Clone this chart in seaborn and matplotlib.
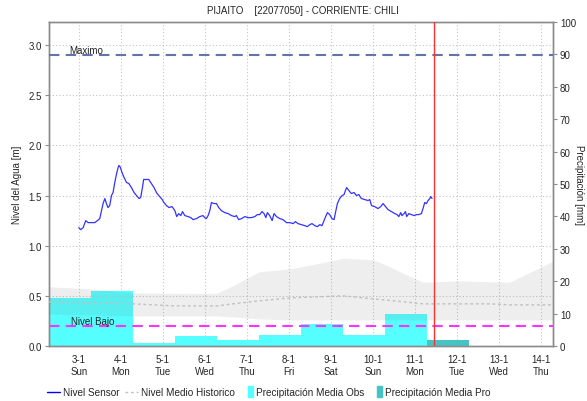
import matplotlib
matplotlib.use("Agg")
import matplotlib.pyplot as plt
import pandas as pd
import seaborn as sns
from matplotlib.patches import Rectangle
from matplotlib.lines import Line2D
from matplotlib.legend_handler import HandlerPatch
from matplotlib.ticker import MultipleLocator, FixedLocator

# ---------------------------------------------------------------- data
station_title = "PIJAITO    [22077050] - CORRIENTE: CHILI"
day0 = pd.Timestamp("2021-01-03")          # hour 0 of the time axis
day_labels = [f"{d.day}-{d.month}\n{d.strftime('%a')}"
              for d in pd.date_range(day0, periods=12, freq="D")]

# water level from the sensor (hours after day0, metres)
sensor_hours = [0, 1.1, 2.5, 4, 5.3, 7.3, 9.1, 10.7, 12, 13, 13.9, 14.9, 15.8,
                16.7, 17.7, 18.7, 19.6, 20.6, 21.5, 22.5, 23, 23.8, 24.7, 25.9,
                27.3, 28.6, 30.1, 31.6, 33, 34.5, 35.4, 36.4, 37.1, 38.7, 40,
                41.5, 43, 44.4, 45.7, 47.3, 48.7, 50.1, 51.6, 53.3, 54.9, 56,
                57.1, 58.3, 59.3, 60.6, 62.5, 64, 65.3, 67.3, 69.1, 71, 72,
                72.9, 73.9, 74.9, 75.8, 77.3, 78.7, 80, 81.5, 83.4, 85.3, 87.3,
                89.1, 90.1, 91.4, 93, 94.9, 96.7, 98.7, 100.6, 102.1, 103.4,
                104.7, 105.9, 106.9, 107.8, 109.1, 110.5, 111.6, 113, 114.9,
                116.7, 118.7, 120.6, 122.5, 123.8, 125.3, 127.3, 129.1, 130.7,
                132, 133.3, 134.9, 136.4, 137.7, 139, 140.6, 142.1, 143.4,
                144.7, 145.9, 146.7, 147.8, 149.1, 150.5, 151.6, 152.4, 153.1,
                154.3, 155.8, 157.3, 158.7, 160, 161.5, 163.4, 165.3, 166.3,
                167.3, 169.1, 171, 172.6, 173.9, 175.3, 176.7, 178.7, 180.6,
                181.9, 182.9, 184, 184.7, 185.9, 186.7, 187.4, 188.6, 190.1,
                191.6, 193, 194.3, 195.8, 196.7, 197.7, 198.7, 199.6, 200.6,
                201.1, 201.9]
sensor_level = [1.18, 1.16, 1.18, 1.25, 1.23, 1.23, 1.23, 1.25, 1.27, 1.35,
                1.42, 1.47, 1.42, 1.38, 1.40, 1.50, 1.53, 1.63, 1.71, 1.78,
                1.80, 1.78, 1.73, 1.68, 1.63, 1.62, 1.58, 1.53, 1.50, 1.47,
                1.48, 1.58, 1.66, 1.66, 1.66, 1.62, 1.58, 1.53, 1.50, 1.47,
                1.43, 1.40, 1.38, 1.39, 1.35, 1.29, 1.32, 1.30, 1.34, 1.30,
                1.29, 1.28, 1.26, 1.27, 1.29, 1.30, 1.28, 1.27, 1.30, 1.35,
                1.43, 1.42, 1.42, 1.38, 1.35, 1.33, 1.32, 1.30, 1.29, 1.30,
                1.26, 1.27, 1.29, 1.28, 1.28, 1.29, 1.31, 1.31, 1.34, 1.32,
                1.28, 1.33, 1.30, 1.25, 1.32, 1.29, 1.27, 1.26, 1.23, 1.23,
                1.22, 1.24, 1.22, 1.21, 1.20, 1.19, 1.21, 1.22, 1.20, 1.19,
                1.21, 1.20, 1.27, 1.33, 1.31, 1.27, 1.26, 1.33, 1.42, 1.47,
                1.50, 1.51, 1.55, 1.58, 1.55, 1.52, 1.53, 1.50, 1.51, 1.47,
                1.46, 1.45, 1.46, 1.40, 1.39, 1.37, 1.39, 1.42, 1.39, 1.36,
                1.34, 1.32, 1.31, 1.29, 1.33, 1.30, 1.32, 1.34, 1.29, 1.32,
                1.31, 1.30, 1.31, 1.31, 1.32, 1.37, 1.43, 1.42, 1.45, 1.47,
                1.49, 1.47]

# historical statistics for the same calendar days (metres)
hist_hours = [-17, 7, 31, 55, 79, 88, 103, 121, 136, 151, 168, 174, 186, 197,
              216, 235, 246, 271]
hist_upper = [0.59, 0.57, 0.53, 0.525, 0.525, 0.60, 0.74, 0.77, 0.82, 0.875,
              0.86, 0.82, 0.72, 0.635, 0.65, 0.64, 0.635, 0.845]
hist_lower = [0.32, 0.31, 0.30, 0.30, 0.30, 0.29, 0.27, 0.26, 0.26, 0.26,
              0.26, 0.26, 0.26, 0.26, 0.26, 0.26, 0.26, 0.26]
hist_mean = [0.44, 0.43, 0.42, 0.40, 0.40, 0.42, 0.45, 0.48, 0.49, 0.50,
             0.47, 0.46, 0.44, 0.42, 0.42, 0.42, 0.41, 0.41]

# daily precipitation (mm), each day closing at 07:00
precip_obs = [14.9, 17.1, 0.9, 3.2, 1.85, 3.5, 6.7, 3.5, 9.9]
precip_pro = [1.9]
precip_first_hour = -17

nivel_maximo = 2.9
nivel_bajo = 0.2
now_hour = 203

# ---------------------------------------------------------------- style
sns.set_theme(style="white")
plt.rcParams["font.family"] = ["Liberation Sans", "DejaVu Sans"]
FS = 7
grid_kw = dict(color="#c4c4c4", linewidth=0.8, linestyle=(0, (1, 2)))
spine_color = "#8c8c8c"
obs_color = "#55ffff"
pro_color = "#44c4c4"
sensor_color = "#3333ff"

fig = plt.figure(figsize=(5.87, 4.02), dpi=100)
ax_p = fig.add_axes([49 / 587, 55 / 402, 504 / 587, 324 / 402])
ax_l = ax_p.twinx()
ax_p.yaxis.tick_right()
ax_p.yaxis.set_label_position("right")
ax_l.yaxis.tick_left()
ax_l.yaxis.set_label_position("left")

# precipitation bars on the right axis
obs_left = [precip_first_hour + 24 * i for i in range(len(precip_obs))]
pro_left = [obs_left[-1] + 24 * (i + 1) for i in range(len(precip_pro))]
ax_p.bar(obs_left, precip_obs, width=24, align="edge", color=obs_color,
         linewidth=0, zorder=2)
ax_p.bar(pro_left, precip_pro, width=24, align="edge", color=pro_color,
         linewidth=0, zorder=2)
ax_p.set_ylim(0, 100)
ax_p.set_xlim(-17, 271)
ax_p.xaxis.set_major_locator(FixedLocator([24 * i for i in range(12)]))
ax_p.set_xticklabels(day_labels)
ax_p.xaxis.set_minor_locator(MultipleLocator(1))
ax_p.yaxis.set_major_locator(MultipleLocator(10))
ax_p.grid(axis="x", **grid_kw)
ax_p.set_axisbelow(True)
ax_p.set_ylabel("Precipitación [mm]", rotation=270, fontsize=FS, labelpad=6)

# historical band and mean on the level axis
ax_l.fill_between(hist_hours, hist_lower, hist_upper, color="#606060",
                  alpha=0.1, linewidth=0, zorder=1)
sns.lineplot(x=hist_hours, y=hist_mean, ax=ax_l, color="#c0c0c0",
             linewidth=1, zorder=3)
ax_l.lines[-1].set_dashes((2, 2))

# reference levels
ax_l.axhline(nivel_maximo, color="#6274aa", linewidth=1.5,
             dashes=(5, 3), zorder=3)
ax_l.axhline(nivel_bajo, color="#ff33ff", linewidth=1.5,
             dashes=(5, 3), zorder=3)
ax_l.annotate("Maximo", (20 / 504, nivel_maximo),
              xycoords=("axes fraction", "data"), fontsize=FS,
              va="bottom", ha="left", color="#222222")
ax_l.annotate("Nivel Bajo", (22 / 504, nivel_bajo),
              xycoords=("axes fraction", "data"), fontsize=FS,
              va="bottom", ha="left", color="#222222")

# sensor water level
sns.lineplot(x=sensor_hours, y=sensor_level, ax=ax_l, color=sensor_color,
             linewidth=0.9, zorder=4)

# current time
ax_l.axvline(now_hour, color="#ff3030", linewidth=1, zorder=5)

ax_l.set_ylim(0, 3.23)
ax_l.yaxis.set_major_locator(MultipleLocator(0.5))
ax_l.yaxis.set_major_formatter(lambda v, p: f"{v:.1f}")
ax_l.grid(axis="y", **grid_kw)
ax_l.set_ylabel("Nivel del Agua [m]", fontsize=FS, labelpad=5)
ax_l.set_xlabel("")

for ax in (ax_p, ax_l):
    for s in ax.spines.values():
        s.set_color(spine_color)
        s.set_linewidth(1)
    ax.tick_params(axis="both", which="major", labelsize=FS, length=3,
                   width=0.8, color=spine_color, pad=2, direction="out")
    ax.tick_params(axis="x", which="minor", length=1.5, width=0.6,
                   color=spine_color, direction="out")
ax_p.tick_params(axis="x", which="major", pad=3)
ax_p.tick_params(axis="y", left=False, right=True)
ax_l.tick_params(axis="y", left=True, right=False)

fig.suptitle(station_title, fontsize=FS, x=303 / 587, y=1 - 6 / 402,
             va="top")


# legend: narrow colour swatches for the precipitation entries
def narrow_patch(legend, orig_handle, xdescent, ydescent, width, height,
                 fontsize):
    w = 3.6
    return Rectangle((width - w - xdescent, -ydescent - 0.25 * height), w,
                     height * 1.5)


handles = [
    Line2D([], [], color="#0000ff", linewidth=1),
    Line2D([], [], color="#c0c0c0", linewidth=1, dashes=(2, 2)),
    Rectangle((0, 0), 1, 1, color=obs_color),
    Rectangle((0, 0), 1, 1, color=pro_color),
]
labels = ["Nivel Sensor", "Nivel Medio Historico",
          "Precipitación Media Obs", "Precipitación Media Pro"]
fig.legend(handles, labels, loc="center", bbox_to_anchor=(269 / 587, 9 / 402),
           ncol=4, frameon=False, fontsize=7.2, handlelength=1.3,
           handletextpad=0.3, columnspacing=0.5, borderpad=0,
           handler_map={Rectangle: HandlerPatch(patch_func=narrow_patch)})

fig.savefig("out.png", dpi=100)
